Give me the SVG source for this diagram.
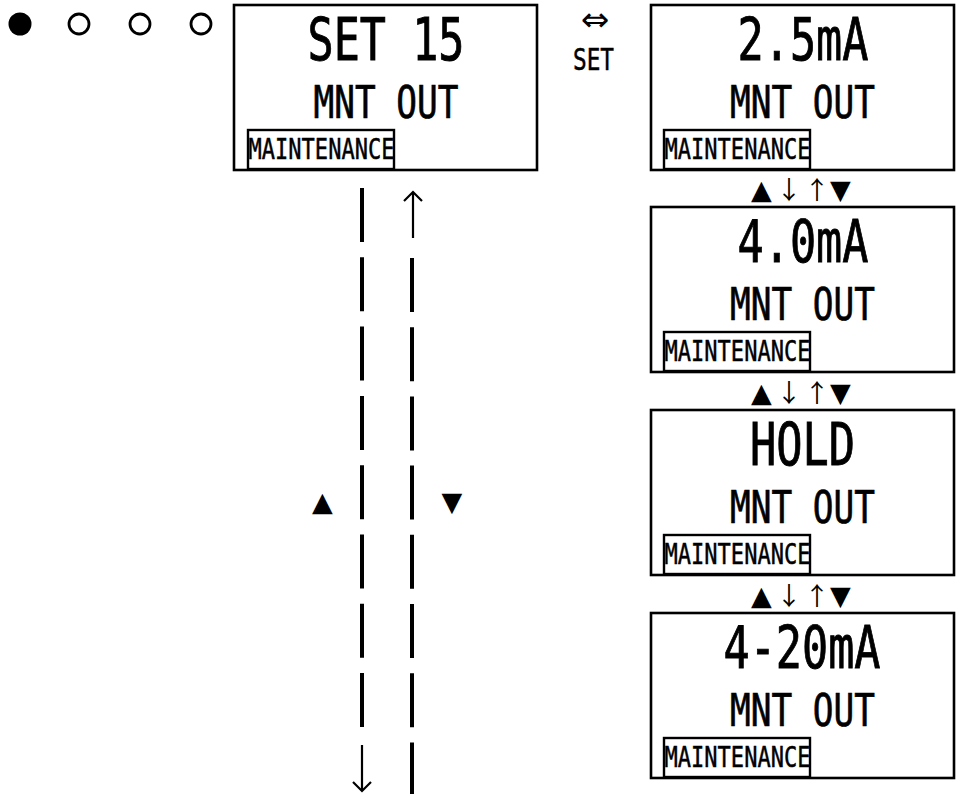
<svg xmlns="http://www.w3.org/2000/svg" width="957" height="794" viewBox="0 0 957 794">
<style>
.box{fill:#fff;stroke:#000;stroke-width:2.6}
.tag{fill:#fff;stroke:#000;stroke-width:2.4}
.t{font-family:"DejaVu Sans Mono","Liberation Mono",monospace;fill:#000;stroke:#000}
.big{font-size:58px;stroke-width:0.9}
.mid{font-size:45px;stroke-width:0.7}
.sm{font-size:29px;stroke-width:0.5}
.sym{font-family:"DejaVu Sans","Noto Sans CJK JP",sans-serif;fill:#000}
.ar{font-family:"Noto Sans CJK JP","DejaVu Sans",sans-serif;fill:#000;font-size:25px}
.dash{stroke:#000;stroke-width:4;fill:none}
.arr{stroke:#000;stroke-width:2.2;fill:none}
</style>
<rect width="957" height="794" fill="#fff"/>
<g id="indicator">
<circle cx="20" cy="24" r="11.5" fill="#000"/>
<circle cx="79" cy="24" r="10" fill="none" stroke="#000" stroke-width="2.8"/>
<circle cx="140" cy="24" r="10" fill="none" stroke="#000" stroke-width="2.8"/>
<circle cx="201" cy="24" r="10" fill="none" stroke="#000" stroke-width="2.8"/>
</g>
<g id="n-set15">
<rect class="box" x="234" y="5" width="303" height="165"/>
<text class="t big" x="386" y="60" text-anchor="middle" textLength="157" lengthAdjust="spacingAndGlyphs">SET 15</text>
<text class="t mid" x="386" y="118" text-anchor="middle" textLength="145" lengthAdjust="spacingAndGlyphs">MNT OUT</text>
<rect class="tag" x="248" y="130" width="146" height="39"/>
<text class="t sm" x="248.5" y="159" textLength="146" lengthAdjust="spacingAndGlyphs">MAINTENANCE</text>
</g>
<g id="set-label">
<text class="sym" x="595" y="31" font-size="34" text-anchor="middle">⇔</text>
<text class="t" x="593.5" y="70" font-size="30" stroke-width="0.5" text-anchor="middle" textLength="41" lengthAdjust="spacingAndGlyphs">SET</text>
</g>
<g id="n-25ma">
<rect class="box" x="651" y="5" width="303" height="165"/>
<text class="t big" x="803" y="60" text-anchor="middle" textLength="131" lengthAdjust="spacingAndGlyphs">2.5mA</text>
<text class="t mid" x="802.5" y="118" text-anchor="middle" textLength="145" lengthAdjust="spacingAndGlyphs">MNT OUT</text>
<rect class="tag" x="664" y="130" width="146" height="39"/>
<text class="t sm" x="664.5" y="159" textLength="146" lengthAdjust="spacingAndGlyphs">MAINTENANCE</text>
</g>
<g id="n-40ma">
<rect class="box" x="651" y="207" width="303" height="165"/>
<text class="t big" x="803" y="262" text-anchor="middle" textLength="131" lengthAdjust="spacingAndGlyphs">4.0mA</text>
<text class="t mid" x="802.5" y="320" text-anchor="middle" textLength="145" lengthAdjust="spacingAndGlyphs">MNT OUT</text>
<rect class="tag" x="664" y="332" width="146" height="39"/>
<text class="t sm" x="664.5" y="361" textLength="146" lengthAdjust="spacingAndGlyphs">MAINTENANCE</text>
</g>
<g id="n-hold">
<rect class="box" x="651" y="410" width="303" height="165"/>
<text class="t big" x="802.5" y="465" text-anchor="middle" textLength="105" lengthAdjust="spacingAndGlyphs">HOLD</text>
<text class="t mid" x="802.5" y="523" text-anchor="middle" textLength="145" lengthAdjust="spacingAndGlyphs">MNT OUT</text>
<rect class="tag" x="664" y="535" width="146" height="39"/>
<text class="t sm" x="664.5" y="564" textLength="146" lengthAdjust="spacingAndGlyphs">MAINTENANCE</text>
</g>
<g id="n-420ma">
<rect class="box" x="651" y="613" width="303" height="165"/>
<text class="t big" x="802" y="668" text-anchor="middle" textLength="157" lengthAdjust="spacingAndGlyphs">4-20mA</text>
<text class="t mid" x="802.5" y="726" text-anchor="middle" textLength="145" lengthAdjust="spacingAndGlyphs">MNT OUT</text>
<rect class="tag" x="664" y="738" width="146" height="39"/>
<text class="t sm" x="664.5" y="767" textLength="146" lengthAdjust="spacingAndGlyphs">MAINTENANCE</text>
</g>
<g id="connectors">
<g id="step-1">
<text class="sym" x="761.5" y="199" font-size="27" text-anchor="middle">▲</text>
<text class="ar" x="789" y="199" text-anchor="middle">↓</text>
<text class="ar" x="817" y="199" text-anchor="middle">↑</text>
<text class="sym" x="840.5" y="199" font-size="27" text-anchor="middle">▼</text>
</g>
<g id="step-2">
<text class="sym" x="761.5" y="402" font-size="27" text-anchor="middle">▲</text>
<text class="ar" x="789" y="402" text-anchor="middle">↓</text>
<text class="ar" x="817" y="402" text-anchor="middle">↑</text>
<text class="sym" x="840.5" y="402" font-size="27" text-anchor="middle">▼</text>
</g>
<g id="step-3">
<text class="sym" x="761.5" y="605" font-size="27" text-anchor="middle">▲</text>
<text class="ar" x="789" y="605" text-anchor="middle">↓</text>
<text class="ar" x="817" y="605" text-anchor="middle">↑</text>
<text class="sym" x="840.5" y="605" font-size="27" text-anchor="middle">▼</text>
</g>
<path class="dash" d="M362 188 V728" stroke-dasharray="54 15.3"/>
<path class="arr" d="M362 745 V791 M353 782 L362 791 L371 782"/>
<path class="arr" d="M413 192 V238 M404 201 L413 192 L422 201"/>
<path class="dash" d="M412 258 V794" stroke-dasharray="54 15.2"/>
<text class="sym" x="322.5" y="511" font-size="27" text-anchor="middle">▲</text>
<text class="sym" x="452" y="511" font-size="27" text-anchor="middle">▼</text>
</g>
</svg>
